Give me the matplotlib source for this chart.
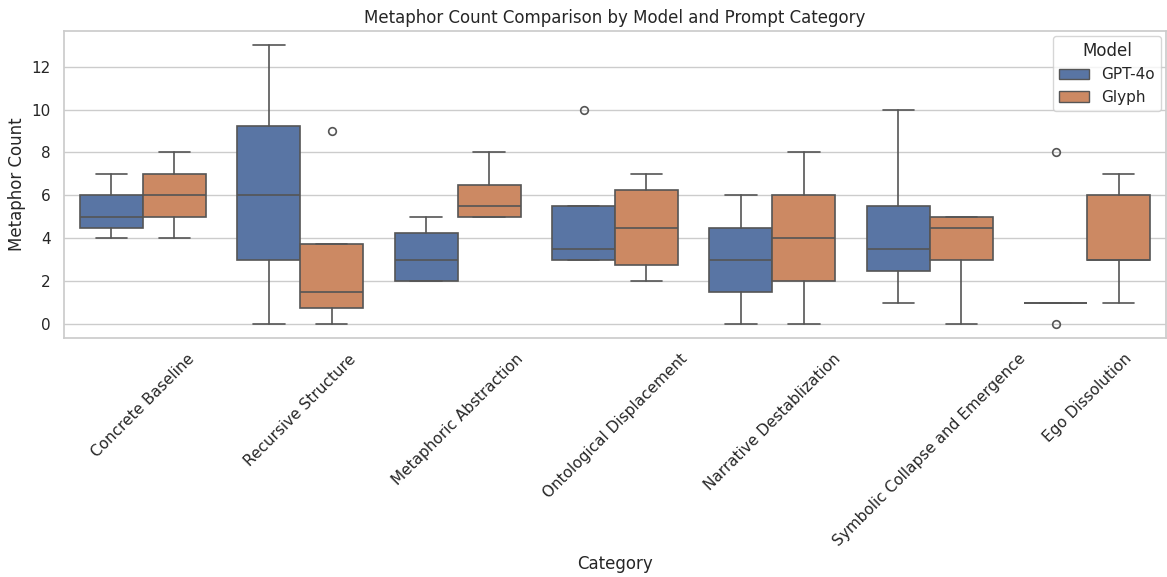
import matplotlib
matplotlib.use("Agg")
import matplotlib.pyplot as plt
import matplotlib.patches as mpatches
import numpy as np
import seaborn as sns

# categories and models
categories = ["Concrete Baseline", "Recursive Structure", "Metaphoric Abstraction",
              "Ontological Displacement", "Narrative Destablization",
              "Symbolic Collapse and Emergence", "Ego Dissolution"]
models = ["GPT-4o", "Glyph"]

# box statistics: (whislo, q1, med, q3, whishi)
gpt_whislo = [4, 0, 2, 3, 0, 1, 1]
gpt_q1 = [4.5, 3, 2, 3, 1.5, 2.5, 1]
gpt_med = [5, 6, 3, 3.5, 3, 3.5, 1]
gpt_q3 = [6, 9.25, 4.25, 5.5, 4.5, 5.5, 1]
gpt_whishi = [7, 13, 5, 5.5, 6, 10, 1]
gpt_fliers = [[], [], [], [10], [], [], [8, 0]]

glyph_whislo = [4, 0, 5, 2, 0, 0, 1]
glyph_q1 = [5, 0.75, 5, 2.75, 2, 3, 3]
glyph_med = [6, 1.5, 5.5, 4.5, 4, 4.5, 3]
glyph_q3 = [7, 3.75, 6.5, 6.25, 6, 5, 6]
glyph_whishi = [8, 3.75, 8, 7, 8, 5, 7]
glyph_fliers = [[], [9], [], [], [], [], []]

sns.set_theme(style="whitegrid")

deep = sns.color_palette("deep")
colors = [sns.desaturate(deep[0], 0.75), sns.desaturate(deep[1], 0.75)]
line_color = "#555555"
lw = 1.2

fig, ax = plt.subplots(figsize=(11.67, 5.77), dpi=100)
fig.subplots_adjust(left=0.055, right=0.999, top=0.946, bottom=0.414)

series = [
    (gpt_whislo, gpt_q1, gpt_med, gpt_q3, gpt_whishi, gpt_fliers),
    (glyph_whislo, glyph_q1, glyph_med, glyph_q3, glyph_whishi, glyph_fliers),
]

x = np.arange(len(categories))
width = 0.4
for k, (lo, q1, med, q3, hi, fl) in enumerate(series):
    stats = []
    for i in range(len(categories)):
        stats.append(dict(whislo=lo[i], q1=q1[i], med=med[i], q3=q3[i],
                          whishi=hi[i], fliers=fl[i]))
    pos = x - width / 2 + k * width
    ax.bxp(stats, positions=pos, widths=width, patch_artist=True,
           showfliers=True, manage_ticks=False,
           boxprops=dict(facecolor=colors[k], edgecolor=line_color, linewidth=lw),
           medianprops=dict(color=line_color, linewidth=lw),
           whiskerprops=dict(color=line_color, linewidth=lw),
           capprops=dict(color=line_color, linewidth=lw),
           capwidths=width / 2,
           flierprops=dict(marker="o", markerfacecolor="none",
                           markeredgecolor=line_color, markersize=5.5,
                           markeredgewidth=lw))

ax.set_xticks(x)
ax.set_xticklabels(categories, rotation=45)
ax.set_xlim(-0.5, len(categories) - 0.5)
ax.set_ylim(-0.65, 13.65)
ax.set_yticks([0, 2, 4, 6, 8, 10, 12])
ax.xaxis.grid(False)

ax.set_xlabel("Category")
ax.set_ylabel("Metaphor Count")
ax.set_title("Metaphor Count Comparison by Model and Prompt Category")

handles = [mpatches.Patch(facecolor=colors[k], edgecolor=line_color, label=m)
           for k, m in enumerate(models)]
ax.legend(handles=handles, title="Model", loc="upper right", borderaxespad=0.3)

fig.savefig("out.png", dpi=100)
